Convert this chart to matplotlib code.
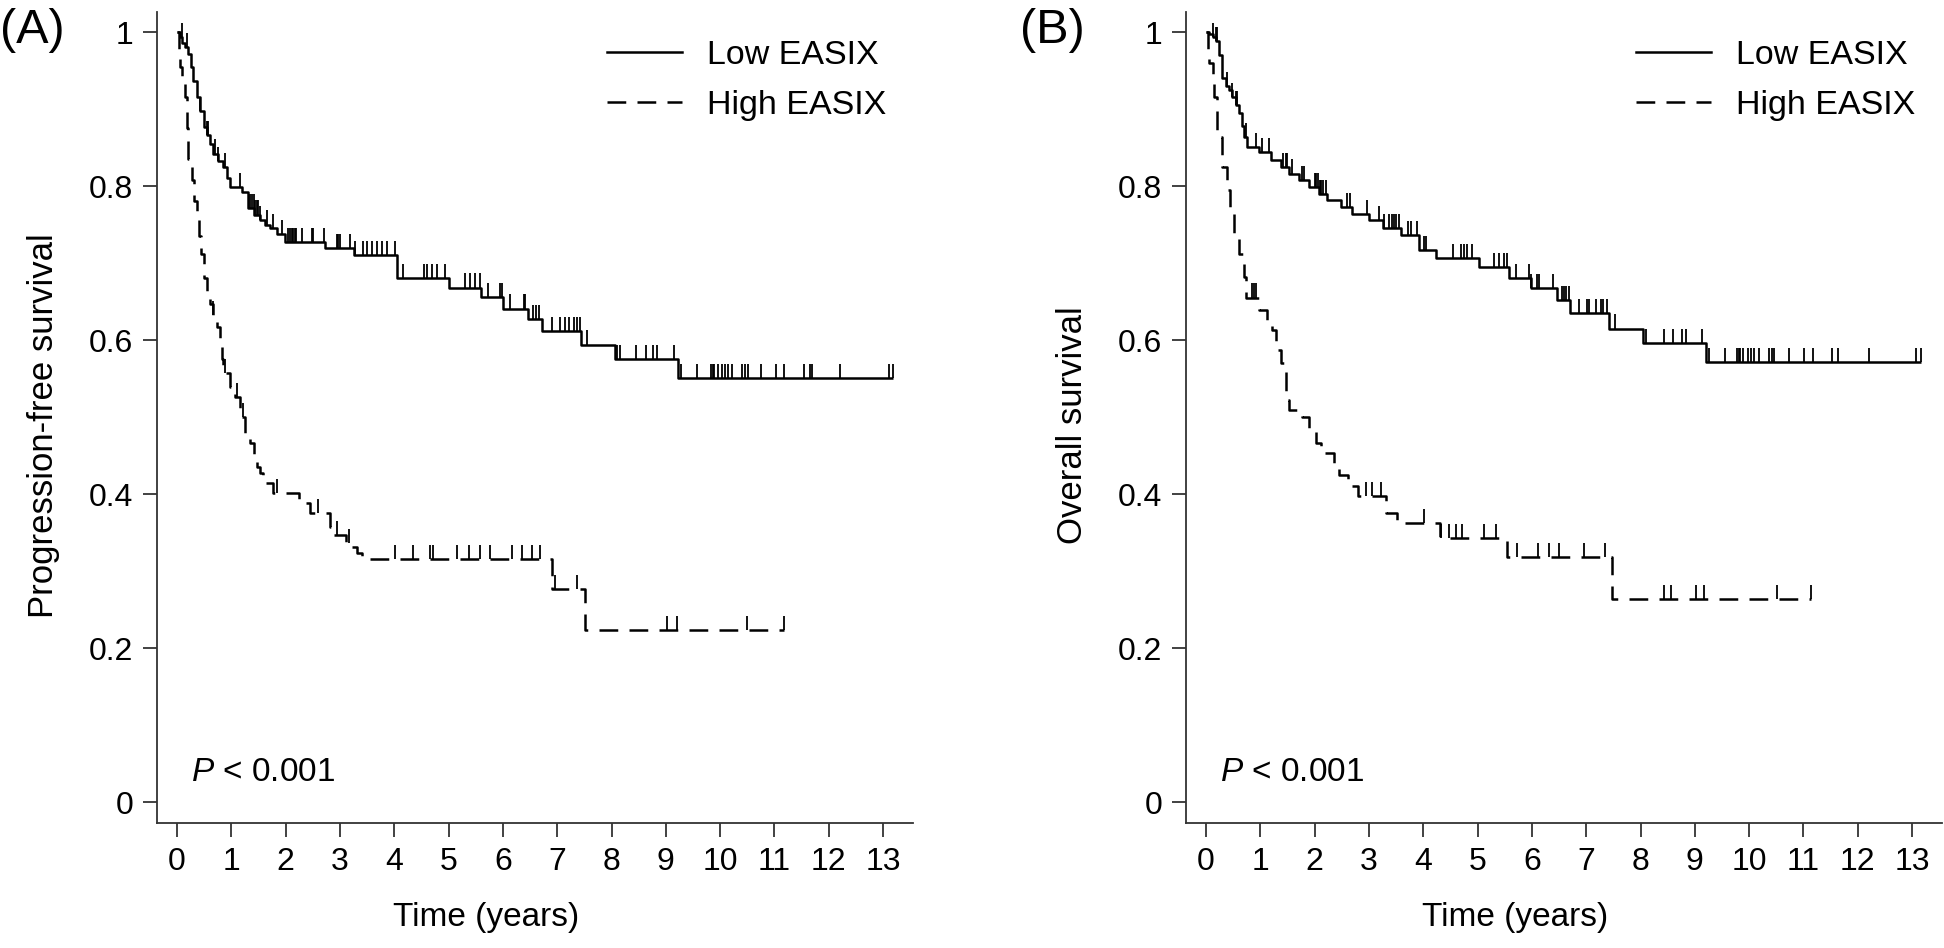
import numpy as np
import matplotlib
matplotlib.use("Agg")
import matplotlib.pyplot as plt
from matplotlib.lines import Line2D

plt.rcParams['font.family'] = ['Liberation Sans', 'DejaVu Sans']
plt.rcParams['mathtext.fontset'] = 'custom'
plt.rcParams['mathtext.it'] = 'Liberation Sans:italic'
plt.rcParams['mathtext.rm'] = 'Liberation Sans'

# ---- data (years, survival after each step) ----
pfs_low_t = [0, 0.05, 0.10, 0.15, 0.20, 0.25, 0.30, 0.36, 0.42, 0.49, 0.55, 0.61, 0.67, 0.76,
             0.85, 0.92, 0.98, 1.19, 1.31, 1.42, 1.53, 1.62, 1.71, 1.84, 1.99, 2.73, 3.25,
             4.05, 5.00, 5.60, 6.00, 6.46, 6.72, 7.44, 8.07, 9.23]
pfs_low_s = [1.0, 0.993, 0.986, 0.980, 0.972, 0.955, 0.937, 0.916, 0.897, 0.877, 0.866, 0.855,
             0.842, 0.832, 0.825, 0.810, 0.799, 0.792, 0.771, 0.763, 0.756, 0.750, 0.745, 0.738,
             0.727, 0.719, 0.710, 0.680, 0.668, 0.656, 0.641, 0.627, 0.612, 0.594, 0.575, 0.551]
pfs_low_cens = [0.09, 0.18, 0.42, 0.55, 0.58, 0.70, 0.76, 0.88, 1.16, 1.34, 1.38, 1.41, 1.44,
                1.47, 1.50, 1.53, 1.65, 1.77, 1.93, 2.05, 2.08, 2.11, 2.14, 2.17, 2.20, 2.30,
                2.48, 2.51, 2.70, 2.94, 2.97, 3.00, 3.19, 3.28, 3.43, 3.49, 3.59, 3.68, 3.77,
                3.86, 4.01, 4.17, 4.54, 4.60, 4.69, 4.78, 4.94, 5.30, 5.40, 5.49, 5.58, 5.73,
                5.95, 5.98, 6.13, 6.38, 6.41, 6.56, 6.61, 6.66, 6.90, 7.05, 7.15, 7.22, 7.30,
                7.37, 7.42, 7.54, 8.10, 8.16, 8.45, 8.64, 8.76, 8.83, 9.15, 9.28, 9.57, 9.83,
                9.86, 9.89, 9.96, 10.03, 10.09, 10.15, 10.22, 10.41, 10.45, 10.51, 10.76,
                11.03, 11.18, 11.55, 11.66, 11.69, 12.21, 13.10, 13.19]

pfs_high_t = [0, 0.03, 0.06, 0.10, 0.15, 0.18, 0.21, 0.27, 0.32, 0.36, 0.41, 0.45, 0.49, 0.55,
              0.61, 0.67, 0.73, 0.79, 0.82, 0.85, 0.98, 1.07, 1.16, 1.25, 1.34, 1.41, 1.47,
              1.53, 1.59, 1.77, 2.25, 2.45, 2.82, 2.88, 3.12, 3.21, 3.31, 3.40, 6.90, 7.51]
pfs_high_s = [1.0, 0.975, 0.955, 0.940, 0.915, 0.875, 0.835, 0.808, 0.780, 0.756, 0.735, 0.712,
              0.680, 0.662, 0.647, 0.632, 0.617, 0.596, 0.575, 0.557, 0.539, 0.526, 0.500,
              0.479, 0.466, 0.444, 0.435, 0.427, 0.414, 0.401, 0.388, 0.375, 0.357, 0.347,
              0.336, 0.331, 0.323, 0.316, 0.277, 0.223]
pfs_high_cens = [0.67, 0.88, 1.10, 1.22, 1.84, 2.60, 2.94, 3.16, 4.01, 4.35, 4.66, 4.72, 5.15,
                 5.37, 5.58, 5.76, 6.16, 6.35, 6.53, 6.69, 6.96, 7.36, 9.02, 9.20, 10.49, 11.17]

os_low_t = [0, 0.06, 0.12, 0.18, 0.24, 0.30, 0.36, 0.42, 0.48, 0.55, 0.61, 0.67, 0.70, 0.76,
            0.98, 1.19, 1.38, 1.53, 1.71, 1.90, 2.08, 2.23, 2.48, 2.69, 3.00, 3.25, 3.59,
            3.92, 4.23, 5.03, 5.58, 5.98, 6.47, 6.71, 7.42, 8.04, 9.20]
os_low_s = [1.0, 0.997, 0.993, 0.988, 0.970, 0.940, 0.930, 0.925, 0.915, 0.905, 0.895, 0.878,
            0.864, 0.851, 0.844, 0.834, 0.825, 0.816, 0.808, 0.799, 0.790, 0.782, 0.773,
            0.764, 0.756, 0.745, 0.736, 0.717, 0.706, 0.695, 0.680, 0.667, 0.652, 0.635,
            0.615, 0.596, 0.571]
os_low_cens = [0.12, 0.18, 0.21, 0.39, 0.48, 0.55, 0.58, 0.73, 0.92, 1.04, 1.16, 1.41, 1.47,
               1.49, 1.59, 1.77, 1.80, 2.00, 2.03, 2.06, 2.09, 2.12, 2.15, 2.21, 2.60, 2.66,
               2.97, 3.19, 3.28, 3.37, 3.43, 3.46, 3.49, 3.55, 3.71, 3.77, 3.89, 4.01, 4.05,
               4.54, 4.69, 4.75, 4.81, 4.90, 5.30, 5.40, 5.49, 5.55, 5.70, 5.95, 5.98, 6.10,
               6.13, 6.38, 6.56, 6.59, 6.62, 6.69, 6.87, 7.02, 7.05, 7.18, 7.27, 7.30, 7.39,
               7.53, 8.10, 8.43, 8.59, 8.76, 8.83, 9.14, 9.26, 9.56, 9.78, 9.81, 9.84, 9.88,
               9.97, 10.03, 10.09, 10.18, 10.37, 10.42, 10.46, 10.74, 11.01, 11.17, 11.53,
               11.64, 12.20, 13.07, 13.16]

os_high_t = [0, 0.03, 0.06, 0.12, 0.15, 0.21, 0.30, 0.39, 0.45, 0.52, 0.61, 0.70, 0.73, 0.98,
             1.13, 1.22, 1.28, 1.38, 1.47, 1.53, 1.77, 1.90, 2.02, 2.11, 2.36, 2.45, 2.62,
             2.79, 3.31, 3.52, 4.30, 5.55, 7.48]
os_high_s = [1.0, 0.975, 0.960, 0.942, 0.916, 0.864, 0.825, 0.795, 0.773, 0.739, 0.712, 0.682,
             0.655, 0.639, 0.626, 0.613, 0.587, 0.570, 0.522, 0.509, 0.500, 0.483, 0.466,
             0.453, 0.440, 0.425, 0.410, 0.397, 0.375, 0.362, 0.343, 0.318, 0.264]
os_high_cens = [0.85, 0.88, 0.92, 2.94, 3.06, 3.22, 4.01, 4.32, 4.47, 4.60, 4.72, 5.12, 5.34,
                5.73, 6.12, 6.32, 6.50, 6.96, 7.35, 8.43, 8.56, 9.02, 9.17, 10.52, 11.14]

x_ticks = list(range(0, 14))
y_ticks = [0, 0.2, 0.4, 0.6, 0.8, 1.0]
y_ticklabels = ['0', '0.2', '0.4', '0.6', '0.8', '1']
group_names = ['Low EASIX', 'High EASIX']

LW = 1.8
DASH = (7.5, 4.5)
CENS_H = 0.0185


def km_curve(ax, t, s, cens, dashed):
    end = max(cens[-1], t[-1])
    tt = list(t) + [end]
    ss = list(s) + [s[-1]]
    line, = ax.step(tt, ss, where='post', color='black', lw=LW, solid_capstyle='butt')
    if dashed:
        line.set_dashes(DASH)
    idx = np.searchsorted(t, cens, side='right') - 1
    cy = np.array(s)[idx]
    ax.vlines(cens, cy, cy + CENS_H, color='black', lw=1.3)


fig = plt.figure(figsize=(19.44, 9.48), dpi=100)
W, H = 1944.0, 948.0
panels = [
    (157, 'Progression-free survival', '(A)', 0,
     (pfs_low_t, pfs_low_s, pfs_low_cens), (pfs_high_t, pfs_high_s, pfs_high_cens)),
    (1186, 'Overall survival', '(B)', 1020,
     (os_low_t, os_low_s, os_low_cens), (os_high_t, os_high_s, os_high_cens)),
]

for left_px, ylab, tag, tag_x, low, high in panels:
    ax = fig.add_axes([left_px / W, 1 - 823 / H, 756 / W, 811 / H])
    km_curve(ax, *low, dashed=False)
    km_curve(ax, *high, dashed=True)

    ax.set_xlim(-0.368, 13.55)
    ax.set_ylim(-0.027, 1.026)
    ax.set_xticks(x_ticks)
    ax.set_yticks(y_ticks)
    ax.set_yticklabels(y_ticklabels)
    for sp in ['top', 'right']:
        ax.spines[sp].set_visible(False)
    for sp in ['left', 'bottom']:
        ax.spines[sp].set_linewidth(1.3)
        ax.spines[sp].set_color('#333333')
    ax.tick_params(length=10, width=1.3, color='#333333', labelsize=23, pad=7)

    ax.set_xlabel('Time (years)', fontsize=24)
    ax.xaxis.set_label_coords(0.435, -0.098)
    ax.set_ylabel(ylab, fontsize=25)
    ax.yaxis.set_label_coords(-0.128, 0.49)

    ax.text(0.26, 0.039, '$P$ < 0.001', fontsize=24, va='center', ha='left')

    handles = [Line2D([], [], color='black', lw=LW),
               Line2D([], [], color='black', lw=LW, dashes=DASH)]
    ax.legend(handles, group_names, loc='upper left', bbox_to_anchor=(0.595, 0.965),
              frameon=False, fontsize=24.5, handlelength=2.2, handletextpad=0.75,
              labelspacing=0.55, borderpad=0, borderaxespad=0)

    fig.text(tag_x / W, 1 - 8 / H, tag, fontsize=35, va='top', ha='left')

fig.savefig('out.png', dpi=100)
